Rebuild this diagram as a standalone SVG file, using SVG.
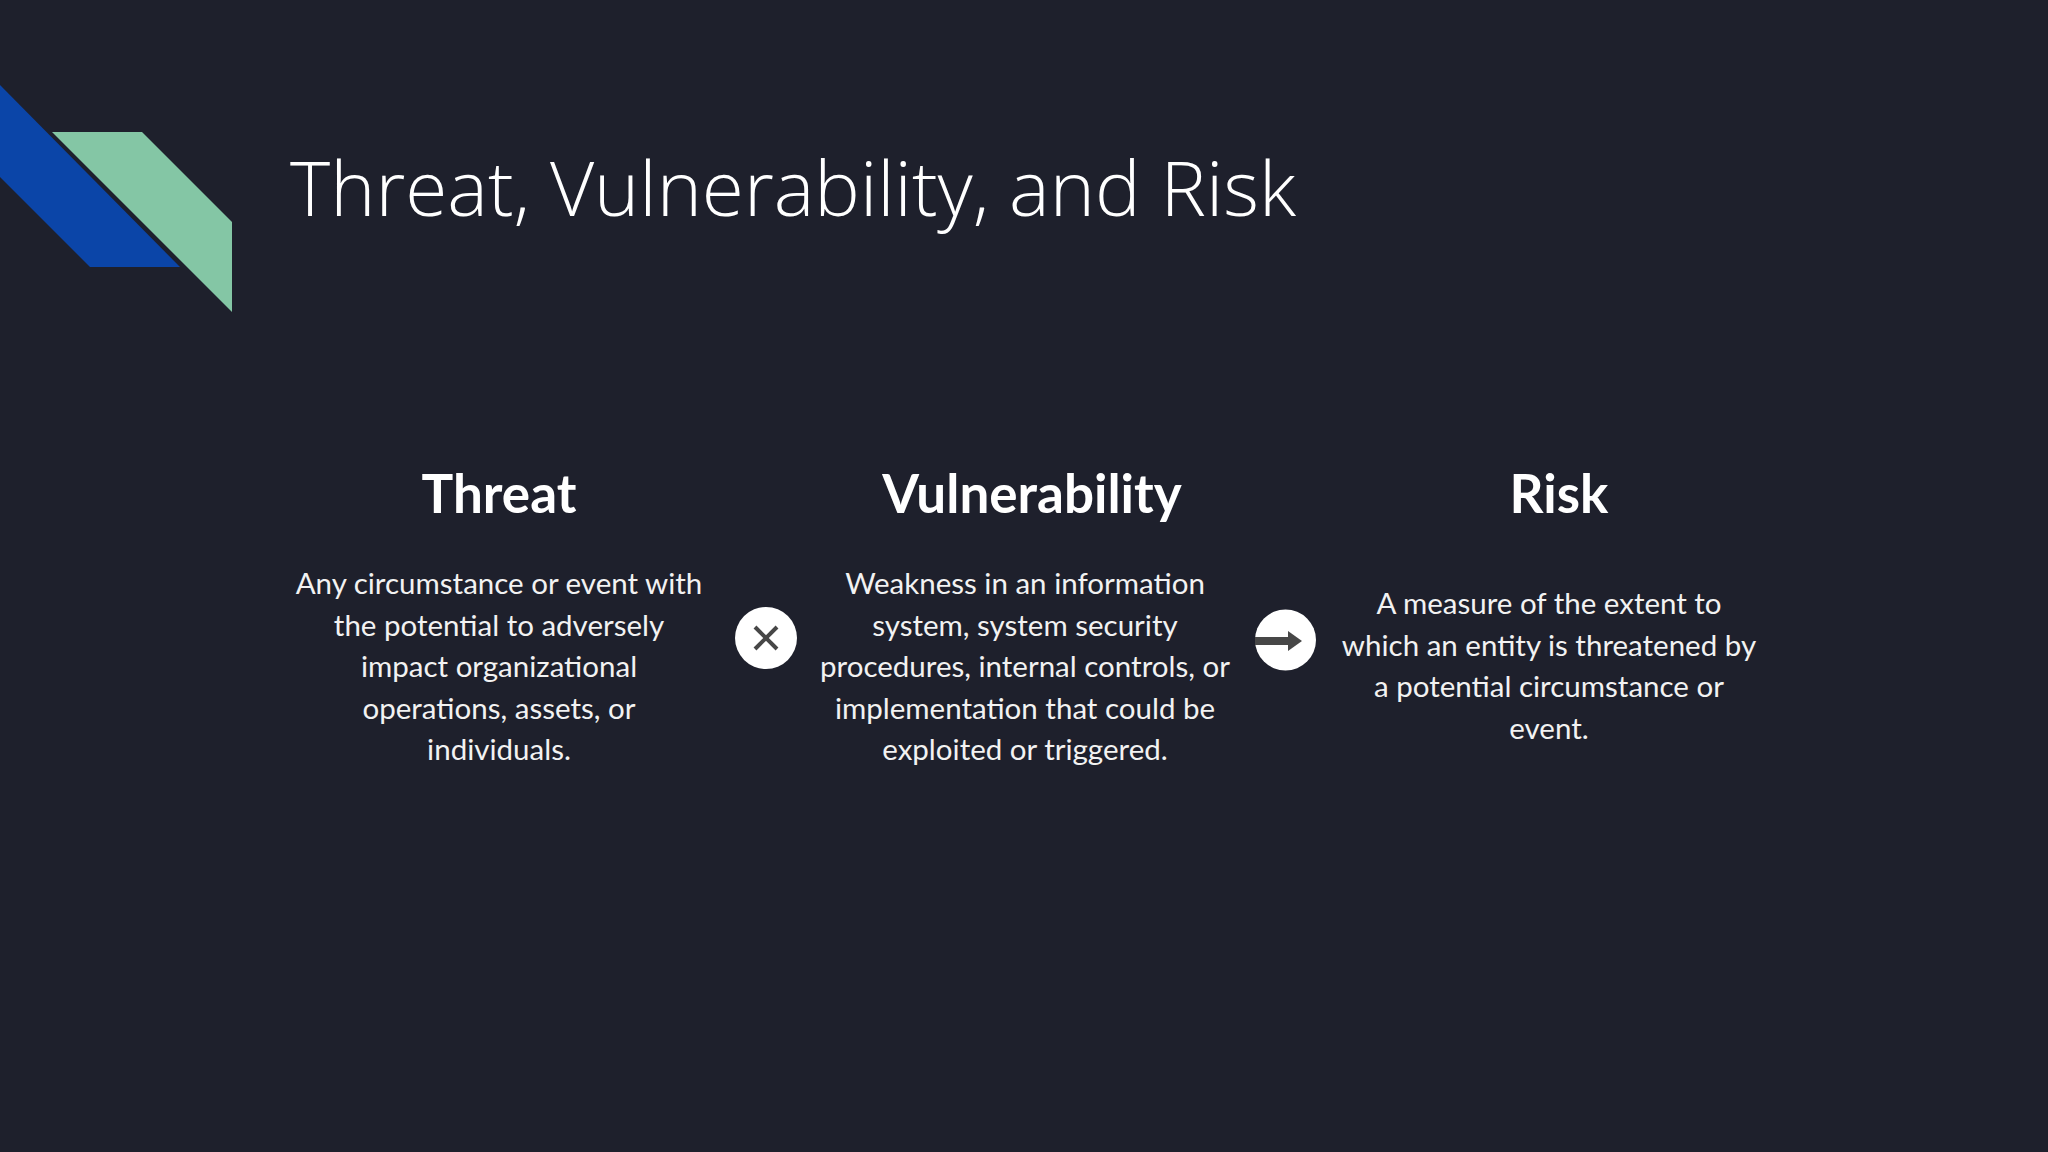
<svg xmlns="http://www.w3.org/2000/svg" width="2048" height="1152" viewBox="0 0 2048 1152">
  <style>
    .title { font-family: "Open Sans", "Liberation Sans", sans-serif; font-weight: 300; font-size: 75px; fill: #ffffff; }
    .head { font-family: Lato, "Liberation Sans", sans-serif; font-weight: 700; font-size: 53px; fill: #ffffff; text-anchor: middle; }
    .body { font-family: Lato, "Liberation Sans", sans-serif; font-weight: 400; font-size: 29.5px; fill: #f2f2f2; text-anchor: middle; }
    .op { fill: #ffffff; }
    .glyph { stroke: #474747; stroke-width: 4; stroke-linecap: butt; fill: none; }
  </style>
  <rect x="0" y="0" width="2048" height="1152" fill="#1e202c"/>

  <g id="decoration">
    <polygon points="0,85 180,267 90,267 0,177" fill="#0b45a8"/>
    <polygon points="52,132 142,132 232,222 232,312" fill="#84c6a5"/>
  </g>

  <g id="title">
    <text class="title" x="290" y="216" textLength="1006" lengthAdjust="spacingAndGlyphs">Threat, Vulnerability, and Risk</text>
  </g>

  <g id="threat">
    <text class="head" x="499" y="513">Threat</text>
    <text class="body" x="499" y="594">Any circumstance or event with</text>
    <text class="body" x="499" y="635.6">the potential to adversely</text>
    <text class="body" x="499" y="677.2">impact organizational</text>
    <text class="body" x="499" y="718.8">operations, assets, or</text>
    <text class="body" x="499" y="760.4">individuals.</text>
  </g>

  <g id="vulnerability">
    <text class="head" x="1032" y="513">Vulnerability</text>
    <text class="body" x="1025" y="594">Weakness in an information</text>
    <text class="body" x="1025" y="635.6">system, system security</text>
    <text class="body" x="1025" y="677.2">procedures, internal controls, or</text>
    <text class="body" x="1025" y="718.8">implementation that could be</text>
    <text class="body" x="1025" y="760.4">exploited or triggered.</text>
  </g>

  <g id="risk">
    <text class="head" x="1559" y="513">Risk</text>
    <text class="body" x="1549" y="614">A measure of the extent to</text>
    <text class="body" x="1549" y="655.6">which an entity is threatened by</text>
    <text class="body" x="1549" y="697.2">a potential circumstance or</text>
    <text class="body" x="1549" y="738.8">event.</text>
  </g>

  <g id="connectors">
    <g id="times-operator">
      <circle class="op" cx="766" cy="638" r="31"/>
      <line class="glyph" x1="755" y1="627" x2="777" y2="649"/>
      <line class="glyph" x1="777" y1="627" x2="755" y2="649"/>
    </g>
    <g id="arrow-operator">
      <circle class="op" cx="1285.5" cy="640" r="30.5"/>
      <rect x="1255" y="637" width="35" height="8" fill="#474747"/>
      <polygon points="1288,631 1302,641 1288,651" fill="#474747"/>
    </g>
  </g>
</svg>
